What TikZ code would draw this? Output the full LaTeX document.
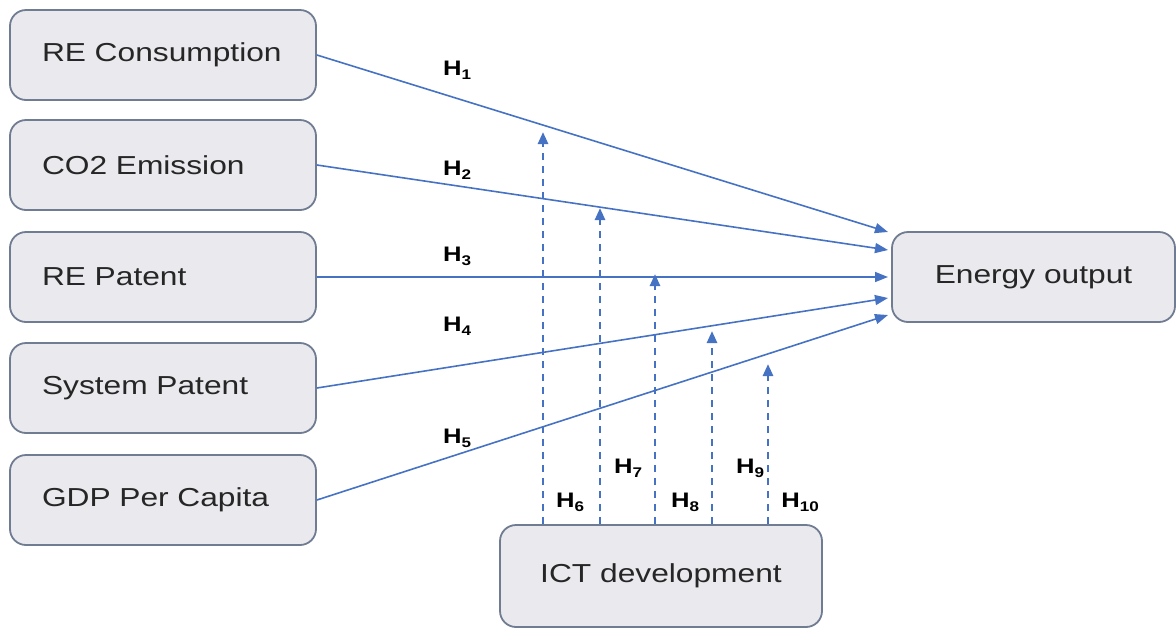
\documentclass[tikz,border=0pt]{standalone}
\usepackage{fontspec}
\setmainfont{Liberation Sans}[FakeStretch=1.22]
\usetikzlibrary{arrows.meta}
\definecolor{boxfill}{RGB}{233,233,238}
\definecolor{boxline}{RGB}{112,124,146}
\definecolor{arr}{RGB}{70,114,196}
\tikzset{
  box/.style={draw=boxline, line width=1.8pt, fill=boxfill, rounded corners=16pt,
    minimum height=90pt, font=\fontsize{26}{28}\selectfont, text=black!85},
  leftbox/.style={box, text width=242pt, inner xsep=32pt, align=left},
  conn/.style={draw=arr, line width=1.6pt, -{Triangle[length=13pt,width=10pt]}},
  modline/.style={draw=arr, line width=2.6pt, dash pattern=on 7pt off 6pt, -{Triangle[length=12pt,width=10pt]}},
  hlab/.style={font=\bfseries\fontsize{21}{23}\selectfont, text=black}
}
\newcommand{\hyp}[1]{H\raisebox{-0.35ex}{\fontsize{14}{15}\selectfont #1}}
\begin{document}
\begin{tikzpicture}[x=1pt,y=-1pt]
\useasboundingbox (0,0) rectangle (1176,630);
% left boxes
\node[leftbox] (rc) at (163,55) {RE Consumption};
\node[leftbox] (co) at (163,165) {CO2 Emission};
\node[leftbox] (rp) at (163,277) {RE Patent};
\node[leftbox] (sp) at (163,388) {System Patent};
\node[leftbox] (gdp) at (163,500) {GDP Per Capita};
% target
\node[box, minimum width=283pt, align=center] (eo) at (1033.5,277) {Energy output};
% ICT
\node[box, minimum width=322pt, minimum height=102pt, align=center] (ict) at (661,576) {ICT development};
% arrow end points
\coordinate (e1) at (888,232);
\coordinate (e2) at (888,250);
\coordinate (e3) at (888,277);
\coordinate (e4) at (888,298);
\coordinate (e5) at (888,315);
\draw[conn] (rc.east) -- (e1);
\draw[conn] (co.east) -- (e2);
\draw[conn] (rp.east) -- (e3);
\draw[conn] (sp.east) -- (e4);
\draw[conn] (gdp.east) -- (e5);
% moderation arrows
\coordinate (d1) at (543,132);
\coordinate (d2) at (600,208);
\coordinate (d3) at (655,274);
\coordinate (d4) at (712,331);
\coordinate (d5) at (768,364);
\draw[modline] (ict.north -| d1) -- (d1);
\draw[modline] (ict.north -| d2) -- (d2);
\draw[modline] (ict.north -| d3) -- (d3);
\draw[modline] (ict.north -| d4) -- (d4);
\draw[modline] (ict.north -| d5) -- (d5);
% labels
\node[hlab] (h1) at (457,70) {\hyp{1}};
\node[hlab] (h2) at (457,170) {\hyp{2}};
\node[hlab] (h3) at (457,256) {\hyp{3}};
\node[hlab] (h4) at (457,326) {\hyp{4}};
\node[hlab] (h5) at (457,438) {\hyp{5}};
\node[hlab] (h6) at (570,502) {\hyp{6}};
\node[hlab] (h7) at (628,468) {\hyp{7}};
\node[hlab] (h8) at (685,502) {\hyp{8}};
\node[hlab] (h9) at (750,468) {\hyp{9}};
\node[hlab] (h10) at (800,502) {\hyp{10}};
\end{tikzpicture}
\end{document}
